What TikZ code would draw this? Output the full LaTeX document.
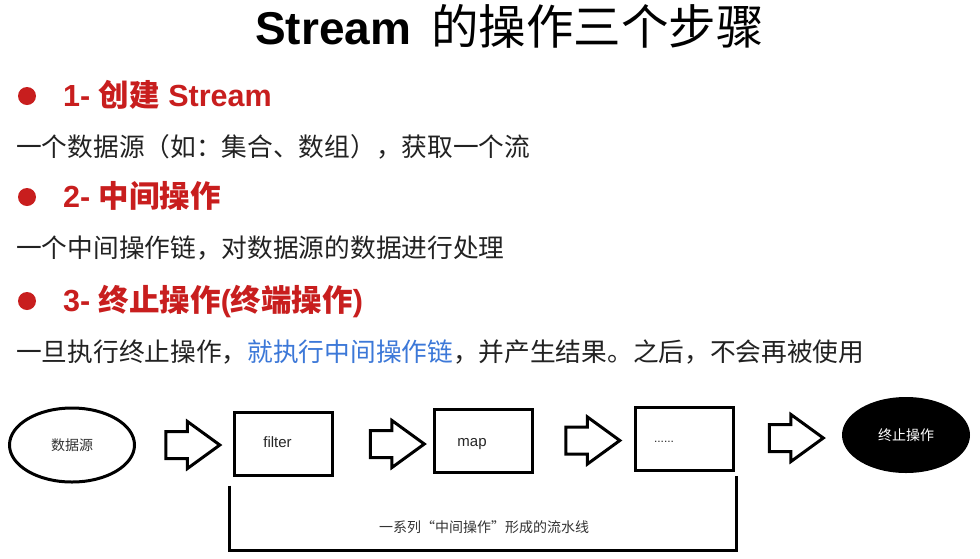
\documentclass[tikz,border=0pt]{standalone}
\usepackage{fontspec}
\setmainfont{Liberation Sans}
\newfontfamily\cjk{Noto Sans CJK SC}
\usetikzlibrary{shapes.geometric,shapes.arrows}
\definecolor{headred}{HTML}{C81E1E}
\definecolor{linkblue}{HTML}{3C78D8}
\definecolor{bodytext}{HTML}{222222}
\newcommand\pxsize[1]{\fontsize{#1}{#1}\selectfont}
\begin{document}
\begin{tikzpicture}[x=1pt,y=-1pt,
  heading/.style={anchor=base west,inner sep=0pt,font=\pxsize{30.5}\bfseries,text=headred},
  bulletdot/.style={circle,fill=headred,minimum size=18pt,inner sep=0pt},
  bodyline/.style={anchor=base west,inner sep=0pt,font=\cjk\pxsize{25.7},text=bodytext},
  stagebox/.style={draw,line width=3pt,rectangle,inner sep=0pt,minimum width=98pt,minimum height=63pt},
  stagetext/.style={font=\pxsize{15},text=black!85},
  flowarrow/.style={draw,line width=3pt,single arrow,inner xsep=0pt,inner ysep=12pt,
    text height=0pt,text depth=0pt,single arrow head extend=10pt,
    single arrow tip angle=72,minimum height=54pt},
  pipe/.style={line width=3pt},
]
\useasboundingbox[fill=white] (0,0) rectangle (980,558);

% title
\node[anchor=base west,inner sep=0pt,font=\pxsize{46}] (title) at (255,44)
  {\textbf{Stream}\hspace{20pt}{\cjk\pxsize{47.5}的操作三个步骤}};

% the three steps
\node[bulletdot] (b1) at (27,96) {};
\node[heading] (h1) at (63,106) {1- {\cjk 创建} Stream};
\node[bodyline] (t1) at (16,156) {一个数据源（如：集合、数组），获取一个流};

\node[bulletdot] (b2) at (27,197) {};
\node[heading] (h2) at (63,207) {2- {\cjk 中间操作}};
\node[bodyline] (t2) at (16,257) {一个中间操作链，对数据源的数据进行处理};

\node[bulletdot] (b3) at (27,301) {};
\node[heading] (h3) at (63,311) {3- {\cjk 终止操作}({\cjk 终端操作})};
\node[bodyline] (t3) at (16,361)
  {一旦执行终止操作，\textcolor{linkblue}{就执行中间操作链}，并产生结果。之后，不会再被使用};

% pipeline
\node[draw,line width=3pt,ellipse,minimum width=125pt,minimum height=74pt,
  font=\cjk\pxsize{14},text=black!80] (src) at (72,445) {数据源};
\node[flowarrow] (a1) at (183.5,445) {};
\node[stagebox,label={[stagetext,xshift=-6pt,yshift=1pt,name=lf]center:filter}] (filter) at (283.5,443.5) {};
\node[flowarrow] (a2) at (388,444) {};
\node[stagebox,label={[stagetext,xshift=-11pt,yshift=-3pt,name=lm]center:map}] (map) at (483,441) {};
\node[flowarrow] (a3) at (583.5,440.5) {};
\node[stagebox,label={[stagetext,font=\pxsize{12},xshift=-20pt,yshift=-3pt,name=ld]center:......}] (more) at (684,439) {};
\node[flowarrow] (a4) at (787,438) {};
\node[ellipse,fill=black,minimum width=128pt,minimum height=76pt,
  font=\cjk\pxsize{14},text=white] (term) at (906,435) {终止操作};

% bracket under the intermediate stages
\coordinate (pl) at ([shift={(-4pt,-9pt)}]filter.south west);
\coordinate (pr) at ([shift={(2pt,-4pt)}]more.south east);
\draw[pipe] (pl) |- (484,550) -| (pr);
\node[font=\cjk\pxsize{14},text=black!80] (pipelabel) at (484,527)
  {一系列“中间操作”形成的流水线};
\end{tikzpicture}
\end{document}
